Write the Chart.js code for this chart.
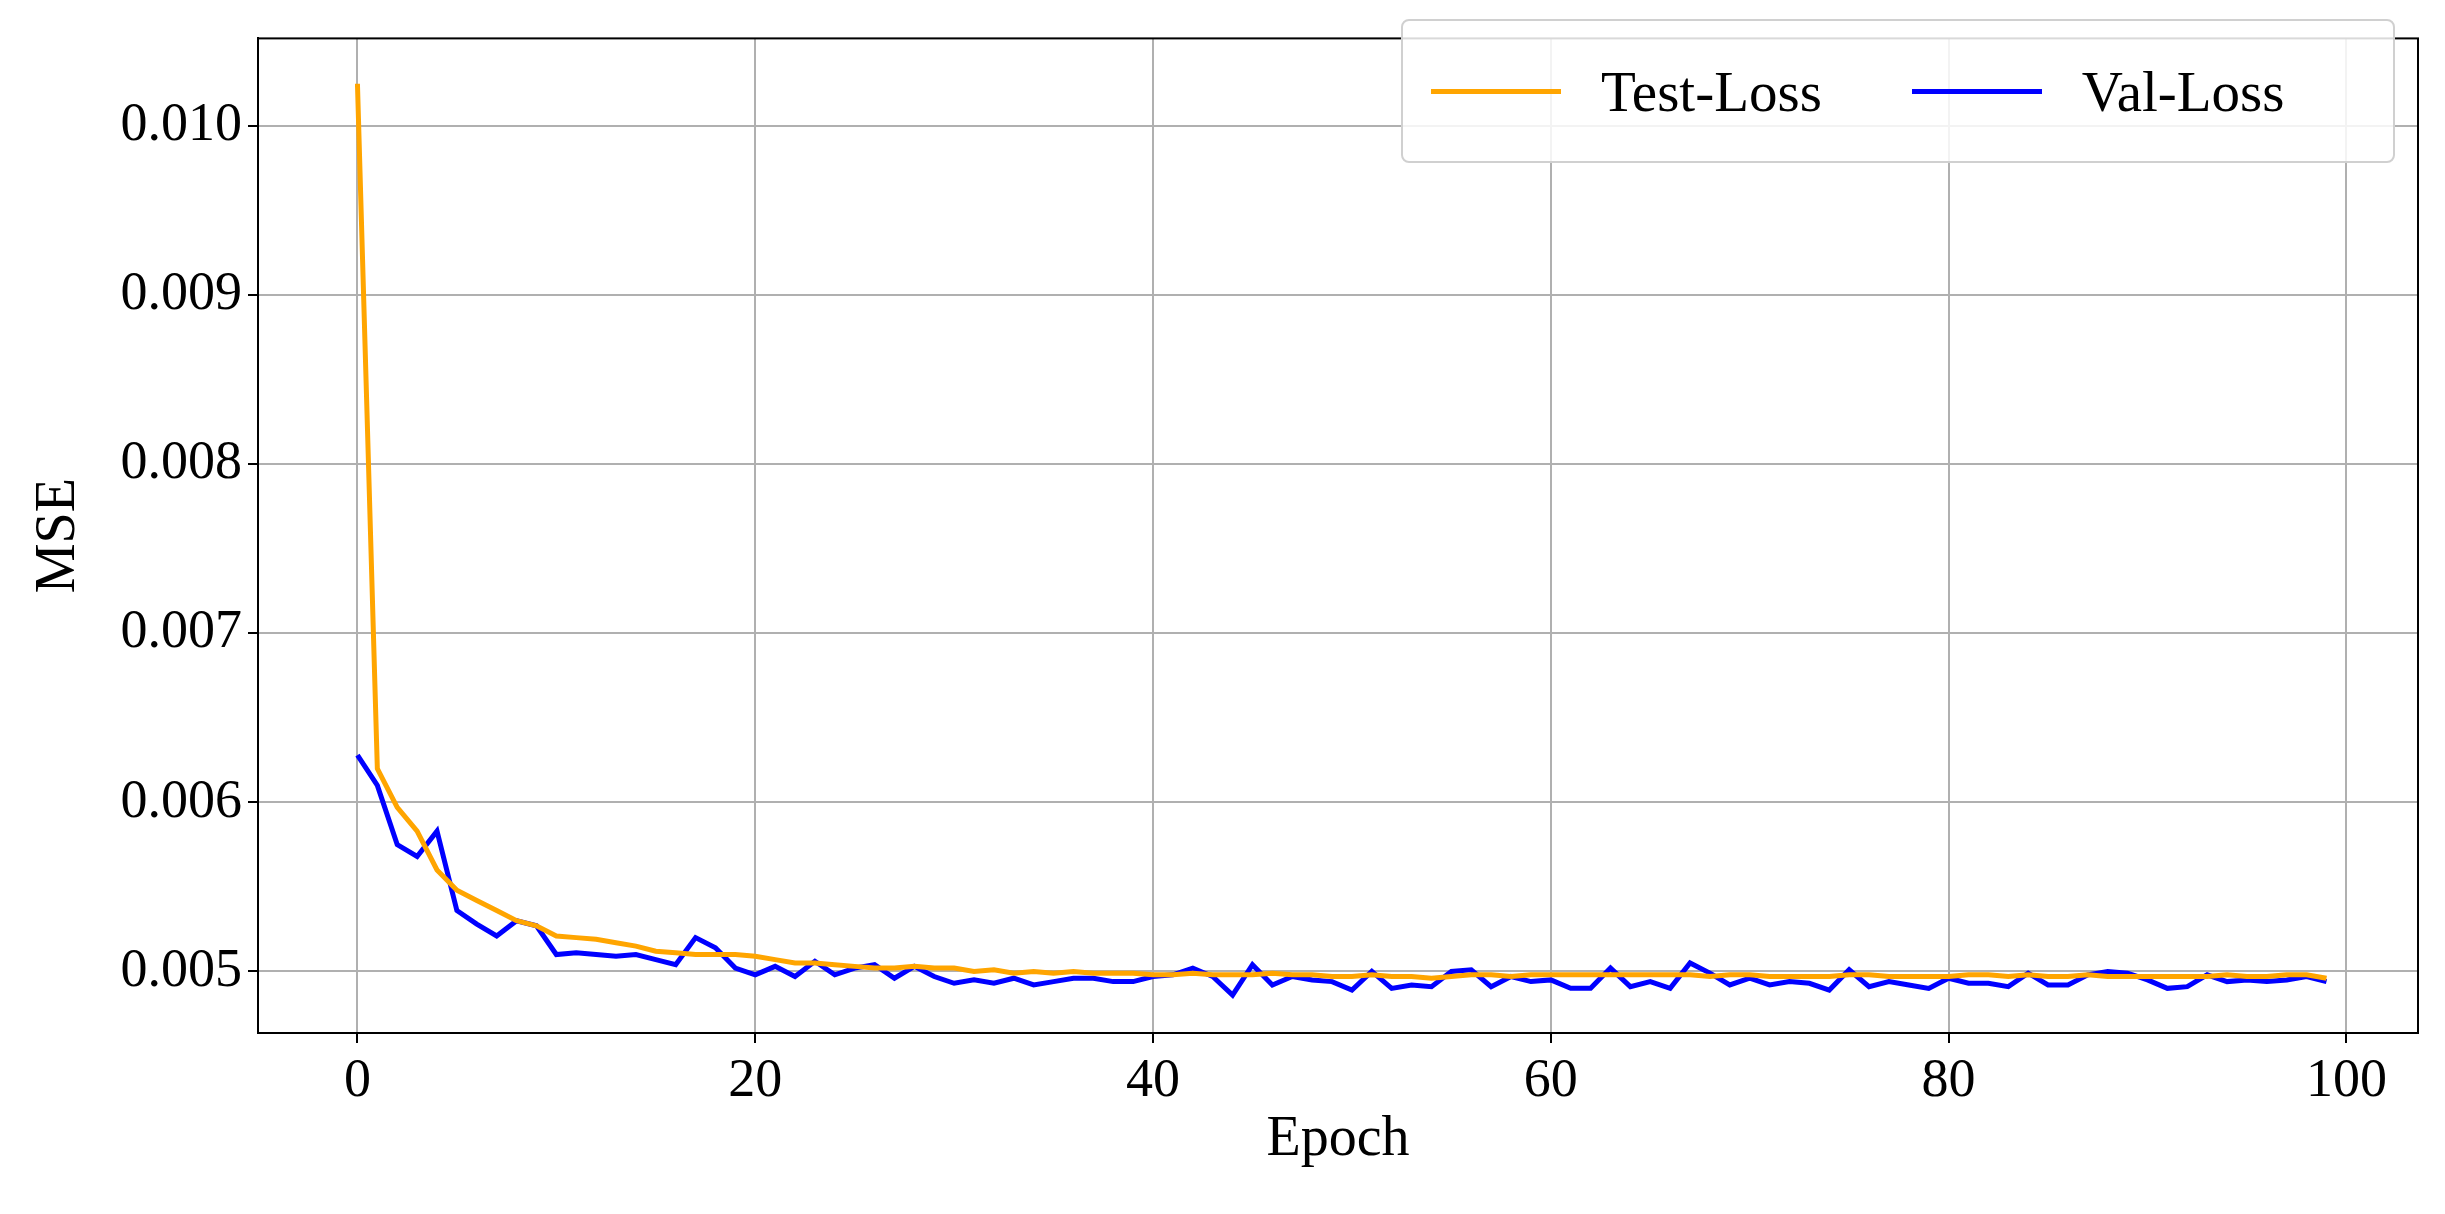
<!DOCTYPE html>
<html>
<head>
<meta charset="utf-8">
<script src="https://cdn.jsdelivr.net/npm/chart.js@4/dist/chart.umd.min.js"></script>
<style>
body{margin:0;background:#fff;}
#wrap{position:relative;width:2445px;height:1214px;}
#legend{position:absolute;left:1401px;top:19px;width:990px;height:140px;border:2px solid #d0d0d0;border-radius:8px;background:rgba(255,255,255,0.85);font-family:"Liberation Serif",serif;font-size:57px;display:flex;align-items:center;}
.item{display:flex;align-items:center;margin-left:28px;}
.sw{width:130px;height:5px;margin-right:40px;}
</style>
</head>
<body>
<div id="wrap">
<canvas id="myChart" width="2445" height="1214"></canvas>
<div id="legend">
  <div class="item"><div class="sw" style="background:orange"></div>Test-Loss</div>
  <div class="item" style="margin-left:90px"><div class="sw" style="background:blue"></div>Val-Loss</div>
</div>
</div>
<script>
const epochs = [];
for (let i = 0; i < 100; i++) epochs.push(i);

const testLoss = [0.01025,0.00620,0.00597,0.00583,0.00560,0.00548,0.00542,0.00536,0.00530,0.00527,
0.00521,0.00520,0.00519,0.00517,0.00515,0.00512,0.00511,0.00510,0.00510,0.00510,
0.00509,0.00507,0.00505,0.00505,0.00504,0.00503,0.00502,0.00502,0.00503,0.00502,
0.00502,0.00500,0.00501,0.00499,0.00500,0.00499,0.00500,0.00499,0.00499,0.00499,
0.00498,0.00498,0.00499,0.00498,0.00498,0.00498,0.00499,0.00498,0.00498,0.00497,
0.00497,0.00498,0.00497,0.00497,0.00496,0.00497,0.00498,0.00498,0.00497,0.00498,
0.00498,0.00498,0.00498,0.00498,0.00498,0.00498,0.00498,0.00498,0.00497,0.00498,
0.00498,0.00497,0.00497,0.00497,0.00497,0.00498,0.00498,0.00497,0.00497,0.00497,
0.00497,0.00498,0.00498,0.00497,0.00498,0.00497,0.00497,0.00498,0.00497,0.00497,
0.00497,0.00497,0.00497,0.00497,0.00498,0.00497,0.00497,0.00498,0.00498,0.00496];

const valLoss = [0.00628,0.00610,0.00575,0.00568,0.00583,0.00536,0.00528,0.00521,0.00530,0.00527,
0.00510,0.00511,0.00510,0.00509,0.00510,0.00507,0.00504,0.00520,0.00514,0.00502,
0.00498,0.00503,0.00497,0.00506,0.00498,0.00502,0.00504,0.00496,0.00503,0.00497,
0.00493,0.00495,0.00493,0.00496,0.00492,0.00494,0.00496,0.00496,0.00494,0.00494,
0.00497,0.00498,0.00502,0.00497,0.00486,0.00504,0.00492,0.00497,0.00495,0.00494,
0.00489,0.00500,0.00490,0.00492,0.00491,0.00500,0.00501,0.00491,0.00497,0.00494,
0.00495,0.00490,0.00490,0.00502,0.00491,0.00494,0.00490,0.00505,0.00499,0.00492,
0.00496,0.00492,0.00494,0.00493,0.00489,0.00501,0.00491,0.00494,0.00492,0.00490,
0.00496,0.00493,0.00493,0.00491,0.00499,0.00492,0.00492,0.00498,0.00500,0.00499,
0.00495,0.00490,0.00491,0.00498,0.00494,0.00495,0.00494,0.00495,0.00497,0.00494];

const xTicks = [0,20,40,60,80,100];
const yTicks = [0.005,0.006,0.007,0.008,0.009,0.010];

const font = {family: '"Liberation Serif", serif', size: 54};
const titleFont = {family: '"Liberation Serif", serif', size: 56};
const gridColor = '#b0b0b0';

new Chart(document.getElementById('myChart'), {
  type: 'line',
  data: {
    datasets: [
      {label: 'Test-Loss', data: epochs.map((e, i) => ({x: e, y: testLoss[i]})), borderColor: 'orange', borderWidth: 5, pointRadius: 0, tension: 0},
      {label: 'Val-Loss', data: epochs.map((e, i) => ({x: e, y: valLoss[i]})), borderColor: 'blue', borderWidth: 5, pointRadius: 0, tension: 0}
    ]
  },
  options: {
    responsive: false,
    animation: false,
    layout: {padding: {top: 23, right: 27, left: 0, bottom: 0}},
    plugins: {legend: {display: false}, tooltip: {enabled: false}},
    scales: {
      x: {
        type: 'linear', min: -5, max: 103.6,
        afterBuildTicks: s => { s.ticks = xTicks.map(v => ({value: v})); },
        afterFit: s => { s.height = 181; },
        ticks: {font: font, color: '#000', padding: 6, maxRotation: 0},
        grid: {color: gridColor, lineWidth: 2, tickLength: 10, tickColor: '#000'},
        border: {color: '#000', width: 2},
        title: {display: true, text: 'Epoch', font: titleFont, color: '#000', padding: {top: 0, bottom: 40}}
      },
      y: {
        min: 0.004636, max: 0.010518,
        afterBuildTicks: s => { s.ticks = yTicks.map(v => ({value: v})); },
        afterFit: s => { s.width = 258; },
        ticks: {font: font, color: '#000', padding: 6, callback: v => v.toFixed(3)},
        grid: {color: gridColor, lineWidth: 2, tickLength: 10, tickColor: '#000'},
        border: {color: '#000', width: 2},
        title: {display: true, text: 'MSE', font: titleFont, color: '#000', padding: {top: 26, bottom: 0}}
      }
    }
  },
  plugins: [{
    id: 'frame',
    afterDraw(c) {
      const a = c.chartArea, ctx = c.ctx;
      ctx.save(); ctx.strokeStyle = '#000'; ctx.lineWidth = 2;
      ctx.strokeRect(a.left, a.top, a.right - a.left, a.bottom - a.top);
      ctx.restore();
    }
  }]
});
</script>
</body>
</html>
